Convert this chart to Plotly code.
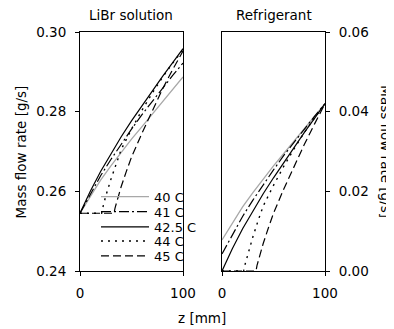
import plotly.graph_objects as go

# ---------------- data ----------------
z_full = [0, 10, 20, 30, 40, 50, 60, 70, 80, 90, 100]
z_44 = [0, 21, 22, 25, 30, 35, 40, 50, 60, 70, 80, 90, 100]
z_45 = [0, 33, 34, 36, 40, 45, 50, 60, 70, 80, 90, 100]

# LiBr solution mass flow rate [g/s]
libr_40 = [0.2545, 0.2588, 0.2628, 0.2664, 0.2698, 0.2731, 0.2762, 0.2793, 0.2824, 0.2855, 0.2887]
libr_41 = [0.2545, 0.2594, 0.2639, 0.2680, 0.2719, 0.2756, 0.2792, 0.2826, 0.2859, 0.2891, 0.2922]
libr_425 = [0.2545, 0.2600, 0.2650, 0.2695, 0.2737, 0.2777, 0.2815, 0.2852, 0.2888, 0.2923, 0.2958]
libr_44 = [0.2545, 0.2545, 0.2558, 0.2588, 0.2630, 0.2669, 0.2705, 0.2756, 0.2803, 0.2846, 0.2886, 0.2922, 0.2955]
libr_45 = [0.2545, 0.2545, 0.2558, 0.2578, 0.2612, 0.2650, 0.2686, 0.2745, 0.2802, 0.2856, 0.2906, 0.2952]

# Refrigerant mass flow rate [g/s]
ref_40 = [0.0078, 0.0121, 0.0161, 0.0197, 0.0231, 0.0264, 0.0295, 0.0326, 0.0357, 0.0388, 0.0420]
ref_41 = [0.0043, 0.0092, 0.0137, 0.0178, 0.0217, 0.0254, 0.0290, 0.0324, 0.0357, 0.0389, 0.0420]
ref_425 = [0.0000, 0.0056, 0.0106, 0.0151, 0.0194, 0.0234, 0.0273, 0.0311, 0.0348, 0.0384, 0.0420]
ref_44 = [0.0000, 0.0000, 0.0013, 0.0043, 0.0086, 0.0126, 0.0163, 0.0215, 0.0263, 0.0307, 0.0348, 0.0385, 0.0420]
ref_45 = [0.0000, 0.0000, 0.0014, 0.0034, 0.0069, 0.0108, 0.0145, 0.0206, 0.0264, 0.0318, 0.0370, 0.0420]

series_names = ["40 C", "41 C", "42.5 C", "44 C", "45 C"]
libr_tick_vals = [0.24, 0.26, 0.28, 0.30]
libr_tick_text = ["0.24", "0.26", "0.28", "0.30"]
ref_tick_vals = [0.00, 0.02, 0.04, 0.06]
ref_tick_text = ["0.00", "0.02", "0.04", "0.06"]
x_tick_vals = [0, 100]
x_tick_text = ["0", "100"]

# ---------------- styles ----------------
FONT = "DejaVu Sans"
FS = 13.5
styles = [
    dict(color="#a8a8a8", width=1.3, dash="solid"),
    dict(color="black", width=1.2, dash="10px,3px,2px,3px"),
    dict(color="black", width=1.2, dash="solid"),
    dict(color="black", width=1.4, dash="2px,5px"),
    dict(color="black", width=1.2, dash="8px,4px"),
]
legend_ids = ["legend", "legend2", "legend3", "legend4", "legend5"]
legend_y = [0.311, 0.248, 0.184, 0.1255, 0.0628]

libr = [(z_full, libr_40), (z_full, libr_41), (z_full, libr_425), (z_44, libr_44), (z_45, libr_45)]
ref = [(z_full, ref_40), (z_full, ref_41), (z_full, ref_425), (z_44, ref_44), (z_45, ref_45)]

fig = go.Figure()
for name, st, lid, (zx, vy) in zip(series_names, styles, legend_ids, libr):
    fig.add_trace(go.Scatter(x=zx, y=vy, mode="lines", name=name, line=st,
                             xaxis="x", yaxis="y", showlegend=True, legend=lid))
for name, st, (zx, vy) in zip(series_names, styles, ref):
    fig.add_trace(go.Scatter(x=zx, y=vy, mode="lines", name=name, line=st,
                             xaxis="x2", yaxis="y2", showlegend=False))

axis_common = dict(showgrid=False, zeroline=False, showline=True, linecolor="black",
                   linewidth=1, mirror=True, ticks="outside", ticklen=4, tickcolor="black",
                   tickfont=dict(family=FONT, size=FS, color="black"))

legends = {}
for lid, ly in zip(legend_ids, legend_y):
    legends[lid] = dict(x=0.0653, y=ly, xanchor="left", yanchor="middle",
                        bgcolor="rgba(0,0,0,0)", borderwidth=0, itemwidth=48,
                        font=dict(family=FONT, size=13, color="black"))

# page body has an 8px margin, so the figure is 8px smaller than the window
fig.update_layout(
    width=386, height=321,
    margin=dict(l=72, r=69, t=24, b=58),
    paper_bgcolor="white", plot_bgcolor="white",
    font=dict(family=FONT, size=FS, color="black"),
    xaxis=dict(domain=[0, 0.4204], range=[0, 100], tickvals=x_tick_vals, ticktext=x_tick_text,
               ticklabelstandoff=6, **axis_common),
    xaxis2=dict(domain=[0.5796, 1], range=[0, 100], tickvals=x_tick_vals, ticktext=x_tick_text,
                anchor="y2", ticklabelstandoff=6, **axis_common),
    yaxis=dict(domain=[0, 1], range=[0.24, 0.30], tickvals=libr_tick_vals, ticktext=libr_tick_text,
               anchor="x", ticklabelstandoff=6, **axis_common),
    yaxis2=dict(domain=[0, 1], range=[0.0, 0.06], tickvals=ref_tick_vals, ticktext=ref_tick_text,
                anchor="x2", side="right", ticklabelstandoff=6, **axis_common),
    showlegend=True,
    annotations=[
        dict(text="LiBr solution", x=0.21, y=1.071, xref="paper", yref="paper",
             showarrow=False, xanchor="center", yanchor="middle", font=dict(size=FS)),
        dict(text="Refrigerant", x=0.79, y=1.071, xref="paper", yref="paper",
             showarrow=False, xanchor="center", yanchor="middle", font=dict(size=FS)),
        dict(text="Mass flow rate [g/s]", x=-0.241, y=0.5, xref="paper", yref="paper",
             showarrow=False, textangle=-90, xanchor="center", yanchor="middle", font=dict(size=FS)),
        dict(text="Mass flow rate [g/s]", x=1.25, y=0.5, xref="paper", yref="paper",
             showarrow=False, textangle=90, xanchor="center", yanchor="middle", font=dict(size=FS)),
        dict(text="z [mm]", x=0.498, y=-0.197, xref="paper", yref="paper",
             showarrow=False, xanchor="center", yanchor="middle", font=dict(size=FS)),
    ],
    **legends,
)

fig.write_html("out.html")
